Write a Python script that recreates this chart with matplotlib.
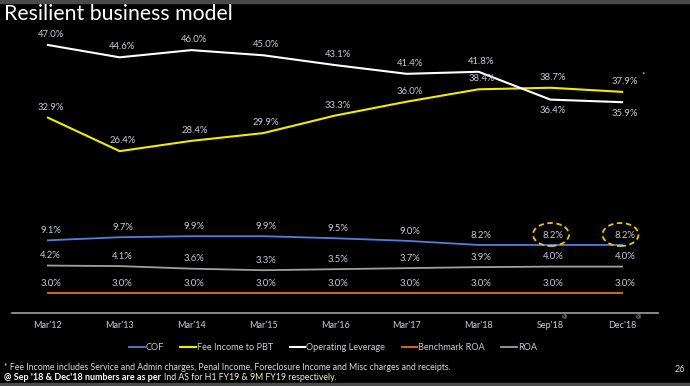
import matplotlib
matplotlib.use("Agg")
import matplotlib.pyplot as plt
from matplotlib.patches import Ellipse, Rectangle

plt.rcParams['font.family'] = ['Lato', 'DejaVu Sans']

categories = ["Mar'12", "Mar'13", "Mar'14", "Mar'15", "Mar'16", "Mar'17", "Mar'18", "Sep'18", "Dec'18"]
cof = [9.1, 9.7, 9.9, 9.9, 9.5, 9.0, 8.2, 8.2, 8.2]
fee_income = [32.9, 26.4, 28.4, 29.9, 33.3, 36.0, 38.4, 38.7, 37.9]
op_leverage = [47.0, 44.6, 46.0, 45.0, 43.1, 41.4, 41.8, 36.4, 35.9]
benchmark_roa = [3.0, 3.0, 3.0, 3.0, 3.0, 3.0, 3.0, 3.0, 3.0]
roa = [4.2, 4.1, 3.6, 3.3, 3.5, 3.7, 3.9, 4.0, 4.0]

c_cof = '#4F7FE0'
c_fee = '#F2EA00'
c_op = '#FFFFFF'
c_bench = '#E8711A'
c_roa = '#A0A0A0'
lbl = '#C8CCD4'

fig = plt.figure(figsize=(6.9, 3.86), dpi=100, facecolor='black')
W, H = 690, 386

def fx(px):
    return px / W

def fy(py):
    return 1 - py / H

# top and bottom grey bars
fig.patches.append(Rectangle((0, fy(3)), 1, 3 / H, transform=fig.transFigure, color='#4a4a4a', zorder=0))
fig.patches.append(Rectangle((0, 0), 1, 3 / H, transform=fig.transFigure, color='#4a4a4a', zorder=0))

ax = fig.add_axes([fx(12), fy(313), fx(658) - fx(12), (313 - 29.5) / H])
ax.set_facecolor('black')
ax2 = ax.twinx()
ax2.set_position(ax.get_position())
x = list(range(len(categories)))

ax.plot(x, cof, color=c_cof, lw=1.3, label='COF')
ax.plot(x, fee_income, color=c_fee, lw=1.5, label='Fee Income to PBT')
ax.plot(x, op_leverage, color=c_op, lw=1.5, label='Operating Leverage')
ax2.plot(x, benchmark_roa, color=c_bench, lw=1.3, label='Benchmark ROA')
ax.plot(x, roa, color=c_roa, lw=1.3, label='ROA')

ax.set_xlim(-0.5, 8.5)
ax.set_ylim(-5, 50)
ax2.set_xlim(-0.5, 8.5)
ax2.set_ylim(0, 42.55)

for a in (ax, ax2):
    for s in ['top', 'right', 'left']:
        a.spines[s].set_visible(False)
    a.set_yticks([])
ax2.spines['bottom'].set_visible(False)
ax.spines['bottom'].set_color('#A0A0A0')
ax.spines['bottom'].set_linewidth(1.2)
ax.set_xticks(x)
ax.set_xticklabels(categories, color=lbl, fontsize=6.5)
ax.tick_params(axis='x', length=0, pad=6)

fs = 6.8
def lab(a, xi, v, dy):
    a.annotate(f"{v:.1f}%", (xi, v), xytext=(2, dy), textcoords='offset points',
               ha='center', va='center', color=lbl, fontsize=fs)

for i, v in enumerate(op_leverage):
    dy = -8 if i >= 7 else 7.5
    lab(ax, i, v, dy)
for i, v in enumerate(fee_income):
    lab(ax, i, v, 7.5)
for i, v in enumerate(cof):
    lab(ax, i, v, 7)
for i, v in enumerate(roa):
    lab(ax, i, v, 7)
for i, v in enumerate(benchmark_roa):
    lab(ax2, i, v, 7)

# asterisk after last fee label
ax.annotate('*', (8, fee_income[8]), xytext=(15, 12.5), textcoords='offset points',
            ha='center', va='center', color=lbl, fontsize=6)

# dashed ellipses around last two COF labels
for px in (551, 620.5):
    fig.patches.append(Ellipse((fx(px), fy(234.5)), 36 / W, 23 / H, transform=fig.transFigure,
                               fill=False, edgecolor='#F2C500', lw=1.3, ls=(0, (3, 2)), zorder=5))

# superscript @ near tick labels
for px in (564, 638):
    fig.text(fx(px), fy(317), '@', color=lbl, fontsize=4.5, ha='center', va='center')

# title
fig.text(fx(4), fy(14), 'Resilient business model', color='white', fontsize=15.3, ha='left', va='center')

# legend
h1, l1 = ax.get_legend_handles_labels()
h2, l2 = ax2.get_legend_handles_labels()
hd = dict(zip(l1 + l2, h1 + h2))
order = ['COF', 'Fee Income to PBT', 'Operating Leverage', 'Benchmark ROA', 'ROA']
leg = fig.legend([hd[k] for k in order], order, loc='center', bbox_to_anchor=(fx(333), fy(348)),
                 ncol=5, frameon=False, fontsize=6.6, handlelength=1.7, handletextpad=0.1,
                 columnspacing=1.8, labelcolor=lbl)

# footnotes
fig.text(fx(4), fy(367), '* Fee Income includes Service and Admin charges, Penal Income, Foreclosure Income and Misc charges and receipts.',
         color='#D8D8D8', fontsize=6.3, ha='left', va='center')
t = fig.text(fx(4), fy(378), "@ Sep '18 & Dec'18 numbers are as per", color='white', fontsize=6.5,
             fontweight='bold', ha='left', va='center')
fig.canvas.draw()
bb = t.get_window_extent()
fig.text((bb.x1 + 3) / W, fy(378), 'Ind AS for H1 FY19 & 9M FY19 respectively.', color='#F5F0C8',
         fontsize=6.3, ha='left', va='center')
fig.text(fx(680), fy(370), '26', color='#D8D8D8', fontsize=6.5, ha='center', va='center')

fig.savefig('out.png', dpi=100, facecolor='black')
